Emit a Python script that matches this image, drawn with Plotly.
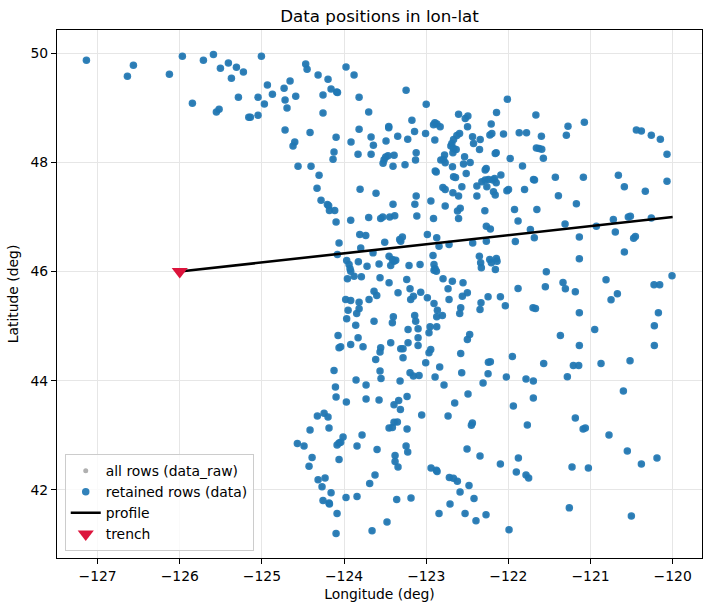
import plotly.graph_objects as go

# Event positions (longitude, latitude)
lon = [
# north-west group
-127.136,-126.564,-126.637,-126.126,-125.968,-125.846,-125.712,-125.590,-125.505,-125.408,-125.310,-125.371,
-125.225,-125.006,-124.933,-124.872,-125.286,-125.047,-124.970,-125.554,-125.521,-125.160,-125.140,-125.047,
# north, west of -123.2
-124.467,-124.450,-124.316,-124.195,-123.976,-123.878,-124.657,-124.730,-124.588,-124.718,-124.694,-124.256,
-124.158,-124.090,-124.080,-123.817,-124.256,-123.245,-123.000,-123.700,-124.718,-124.414,-124.600,-124.621,
-124.097,-123.817,-123.915,-123.671,-123.643,-123.456,-123.456,-123.347,-123.489,-123.225,-124.122,-124.134,
-123.830,-123.671,-124.560,-124.402,-124.304,-124.329,-124.280,-124.203,-124.187,-123.805,-123.611,-123.404,
-123.525,-123.513,-123.493,-123.465,-123.391,-123.404,-123.258,
# north-east
-122.012,-121.598,-121.274,-121.294,-121.075,-120.442,-120.381,-120.260,-120.150,-120.069,-121.659,-121.627,
-121.594,-121.574,-121.428,-121.087,-120.661,-120.588,-120.333,-120.069,-121.391,-121.172,
# dense Puget area
-123.174,-123.142,-123.008,-122.895,-122.911,-122.870,-122.830,-122.895,-122.606,-122.525,-122.493,-122.497,
-122.209,-122.144,-122.225,-122.201,-122.059,-121.868,-121.779,-121.665,-122.594,-122.627,-122.667,-122.688,
-122.700,-122.667,-122.675,-122.635,-122.436,-122.424,-122.343,-122.351,-122.148,-122.160,-123.122,-123.130,
-122.777,-122.789,-122.822,-122.769,-122.533,-122.546,-122.465,-121.978,-121.828,-122.680,-122.270,-122.282,
-122.890,-122.878,-122.513,-122.643,-122.667,-122.091,-122.168,-122.189,-122.282,-122.323,-122.241,-122.148,
-122.262,-122.566,-122.383,-122.797,-122.769,-122.675,-122.606,-121.998,-122.018,-121.803,-121.694,-121.682,
-122.383,-122.181,-122.160,-123.122,-123.138,-122.943,-122.769,-122.586,-122.619,-122.286,-121.925,-121.653,
-123.114,-122.911,-122.606,
# middle band west
-124.178,-124.114,-124.097,-123.919,-123.700,-123.554,-123.529,-123.444,-123.383,-122.268,-122.434,-122.353,
-122.337,-122.329,-122.333,-122.345,-122.243,-122.247,
# dense middle area
-124.061,-123.809,-123.736,-124.081,-123.797,-123.647,-123.505,-123.323,-123.290,-123.310,-122.986,-122.872,
-122.844,-122.722,-123.968,-123.939,-123.927,-123.919,-123.959,-123.878,-123.789,-123.826,-123.720,-123.574,
-123.452,-123.412,-123.391,-123.371,-123.432,-123.209,-123.075,-122.905,-122.892,-122.905,-122.876,-122.917,
-123.562,-123.452,-123.237,-123.343,-123.197,-123.067,-122.986,-122.795,-122.682,-122.552,-122.734,-122.722,
-122.560,-122.499,-123.635,-123.602,-123.696,-123.980,-123.919,-123.817,-123.817,-123.951,-123.846,-123.968,
-123.858,-123.635,-123.400,-123.412,-123.189,-123.156,-123.140,-123.128,-123.099,-123.221,-122.953,-122.966,
-122.872,-122.905,-122.864,-122.872,-122.803,-122.580,-122.592,-122.471,-122.499,-124.073,-123.829,-124.061,
-124.041,-123.919,-123.769,-123.554,-123.562,-123.432,-123.310,-123.282,-123.221,-123.099,-123.099,-122.945,
-122.966,-122.580,-123.615,-123.282,-123.006,-122.836,-124.122,-123.562,-123.197,-123.156,-123.087,-122.892,
-122.568,
# middle band east
-122.219,-122.268,-122.227,-122.146,-122.207,-122.138,-122.158,-121.882,-121.732,-121.684,-121.915,-121.310,
-121.136,-121.136,-120.929,-120.722,-120.698,-120.540,-120.515,-120.260,-120.475,-120.454,-120.588,-121.538,
-121.335,-121.306,-121.550,-121.185,-120.811,-120.673,-120.750,-120.227,-120.158,-120.008,-121.882,-122.247,
-122.097,-122.037,-121.700,-121.670,-121.136,-120.174,-120.223,-120.949,-121.367,-121.136,-120.223,-121.951,
-122.219,-121.570,-121.209,-121.144,-120.872,-120.519,
# south-west
-123.854,-123.732,-123.550,-123.318,-122.783,-122.308,-122.491,-122.653,-122.734,-122.438,-122.450,-122.503,
-122.345,-124.105,-124.097,-123.972,-123.732,-123.574,-123.392,-123.335,-123.314,-123.233,-123.055,-124.325,
-124.243,-124.195,-124.414,-124.183,-124.012,-124.085,-124.061,-124.041,-123.781,-123.842,-123.598,-123.452,
-123.412,-123.392,-123.351,-123.233,-123.245,-123.225,-123.379,-123.379,-123.343,-124.568,-124.487,-124.389,
-124.426,-124.061,-124.316,-124.231,-124.268,-124.158,-124.256,-124.183,-124.178,-124.085,-124.097,-123.976,
-123.842,-123.623,-123.688,-123.359,-123.185,-123.477,-123.659,-122.941,-122.876,-122.868,-122.718,-122.669,
-122.621,-122.479,-122.588,-122.418,-122.710,-122.844,-122.527,-122.394,-122.272,
# south-east
-122.024,-121.785,-121.696,-121.282,-120.600,-121.696,-121.939,-121.185,-121.090,-121.063,-121.769,-120.775,
-120.552,-120.381,-120.191,-122.097,-121.878,-121.903,-121.785,-121.753,-121.225,-121.026,-121.258,-120.503,
-121.992,
]

lat = [
# north-west group
49.872,49.780,49.579,49.615,49.945,49.084,49.872,49.980,49.725,49.823,49.744,49.542,
49.658,49.945,49.420,49.249,49.194,49.194,49.072,48.926,48.974,48.828,48.830,48.864,
# north, west of -123.2
49.805,49.707,49.603,49.524,49.750,49.603,49.493,49.359,49.212,49.145,48.999,49.237,
49.347,49.292,49.280,49.194,48.907,49.322,49.066,48.926,48.596,48.547,48.376,48.303,
48.462,48.608,48.376,48.468,48.315,48.657,48.633,48.480,48.394,48.425,48.193,48.059,
48.150,48.150,47.930,47.930,47.766,47.527,47.308,47.228,47.204,47.509,47.436,47.234,
47.985,48.047,48.101,48.120,48.132,47.930,47.955,
# north-east
49.158,48.480,48.663,48.498,48.736,48.596,48.578,48.498,48.425,48.150,48.266,48.254,
48.242,48.077,47.729,47.729,47.766,47.552,47.473,47.656,47.387,47.240,
# dense Puget area
48.775,48.568,48.531,48.726,48.690,48.702,48.653,48.409,48.885,48.806,48.849,48.653,
48.702,48.916,48.501,48.531,48.519,48.543,48.543,48.867,48.531,48.494,48.421,48.348,
48.299,48.256,48.177,48.238,48.470,48.348,48.421,48.238,48.177,48.165,48.177,48.043,
48.134,48.055,48.043,47.994,48.104,47.969,48.000,48.073,47.933,47.921,47.890,47.860,
47.841,47.823,47.799,47.725,47.737,47.768,47.707,47.676,47.676,47.646,47.689,47.628,
47.554,47.554,47.567,47.542,47.505,47.444,47.383,47.505,47.481,47.505,47.689,47.676,
47.383,47.463,47.402,47.383,47.231,47.292,47.200,47.158,47.109,47.115,47.139,47.139,
47.017,46.974,46.974,
# middle band west
47.117,47.117,46.910,46.940,46.989,46.971,47.001,47.001,47.020,46.830,46.525,46.281,
46.159,46.067,45.426,45.304,44.339,44.126,
# dense middle area
46.525,46.678,46.659,46.311,46.433,46.342,46.537,46.586,46.635,46.556,46.678,46.617,
46.464,46.495,46.201,46.128,46.049,46.006,45.866,45.915,45.902,46.177,46.098,46.140,
46.281,46.220,46.189,46.207,46.110,46.110,46.128,46.128,46.049,46.024,46.006,46.293,
45.884,45.792,45.853,45.609,45.683,45.621,45.518,45.866,45.823,45.792,45.683,45.487,
45.548,45.609,45.640,45.560,45.487,45.487,45.469,45.438,45.316,45.292,45.231,45.133,
45.017,45.090,45.170,45.060,45.487,45.548,45.194,45.090,44.950,44.938,44.987,44.877,
44.987,45.414,45.292,45.170,45.194,45.335,45.231,44.846,44.755,44.828,44.785,44.602,
44.620,44.663,44.620,44.602,44.523,44.694,44.584,44.584,44.694,44.785,44.645,44.571,
44.510,44.498,44.388,44.419,44.327,44.248,44.187,44.175,44.144,44.083,44.095,44.065,
44.144,
# middle band east
46.781,46.556,46.220,46.238,46.159,46.189,46.037,46.928,46.769,46.617,46.549,46.873,
46.635,46.232,46.830,46.952,46.726,47.000,47.013,46.983,46.610,46.641,46.360,45.994,
45.799,45.683,45.719,45.628,45.847,45.591,45.481,45.756,45.756,45.921,45.689,45.536,
45.536,45.371,45.334,45.322,45.243,45.243,45.005,44.938,44.828,44.645,44.645,44.443,
44.346,44.315,44.278,44.278,44.315,44.364,
# south-west
44.012,43.921,44.037,43.994,43.921,43.957,43.756,43.591,43.353,43.225,43.180,42.748,
42.620,43.884,43.701,43.609,43.664,43.646,43.560,43.634,43.469,43.707,43.371,43.353,
43.402,43.335,43.096,43.133,42.968,42.822,42.858,42.871,43.005,42.803,42.736,43.133,
43.139,43.237,43.243,43.115,42.803,42.694,42.626,42.517,42.419,42.846,42.803,42.590,
42.431,42.553,42.181,42.217,42.053,41.943,41.802,41.759,41.741,41.564,41.198,41.857,
41.875,42.272,42.114,41.820,41.851,41.411,41.247,42.400,42.358,42.333,42.223,42.211,
42.156,42.077,41.961,41.839,41.740,41.564,41.564,41.430,41.540,
# south-east
44.067,44.031,43.994,44.073,43.811,43.683,43.536,43.316,43.115,43.133,43.188,43.005,
42.712,42.474,42.584,42.474,42.584,42.327,42.272,42.217,42.419,42.400,41.668,41.521,
41.265,
]

profile_lon = [-126.0, -120.0]
profile_lat = [46.0, 47.0]
trench_lon = [-126.0]
trench_lat = [46.0]

x_ticks = [-127, -126, -125, -124, -123, -122, -121, -120]
x_ticktext = ["\u2212127", "\u2212126", "\u2212125", "\u2212124", "\u2212123", "\u2212122", "\u2212121", "\u2212120"]
y_ticks = [42, 44, 46, 48, 50]
y_ticktext = ["42", "44", "46", "48", "50"]

FONT = "DejaVu Sans"

fig = go.Figure()
fig.add_trace(go.Scatter(x=lon, y=lat, mode="markers", name="all rows (data_raw)",
                         marker=dict(size=5, color="#b0b0b0", line=dict(width=0))))
fig.add_trace(go.Scatter(x=lon, y=lat, mode="markers", name="retained rows (data)",
                         marker=dict(size=7.5, color="#1f77b4", opacity=0.92, line=dict(width=0))))
fig.add_trace(go.Scatter(x=profile_lon, y=profile_lat, mode="lines", name="profile",
                         line=dict(color="black", width=2.6)))
fig.add_trace(go.Scatter(x=trench_lon, y=trench_lat, mode="markers", name="trench",
                         marker=dict(symbol="triangle-down", size=14, color="#DC143C", line=dict(width=0))))

axis_common = dict(showline=True, mirror=True, linecolor="black", linewidth=1,
                   ticks="outside", ticklen=5, tickwidth=1, tickcolor="black",
                   showgrid=True, gridcolor="#e6e6e6", gridwidth=1, zeroline=False,
                   tickfont=dict(family=FONT, size=13.9, color="black"))

fig.update_layout(
    width=711, height=611,
    margin=dict(l=57, r=9, t=30, b=53),
    paper_bgcolor="white", plot_bgcolor="white",
    font=dict(family=FONT, size=13.9, color="black"),
    title=dict(text="Data positions in lon-lat", x=0.5, xref="paper", xanchor="center",
               y=1 - 16 / 611, yref="container", yanchor="middle",
               font=dict(family=FONT, size=16.7, color="black")),
    xaxis=dict(range=[-127.494, -119.643], tickvals=x_ticks, ticktext=x_ticktext,
               title=dict(text="Longitude (deg)", standoff=6, font=dict(family=FONT, size=13.9)),
               **axis_common),
    yaxis=dict(range=[40.749, 50.427], tickvals=y_ticks, ticktext=y_ticktext,
               title=dict(text="Latitude (deg)", standoff=8, font=dict(family=FONT, size=13.9)),
               **axis_common),
    legend=dict(x=0.012, y=0.013, xanchor="left", yanchor="bottom",
                bgcolor="rgba(255,255,255,0.8)", bordercolor="#cccccc", borderwidth=1,
                font=dict(family=FONT, size=13.9, color="black"),
                itemsizing="trace"),
    showlegend=True,
)

fig.write_html("out.html")
